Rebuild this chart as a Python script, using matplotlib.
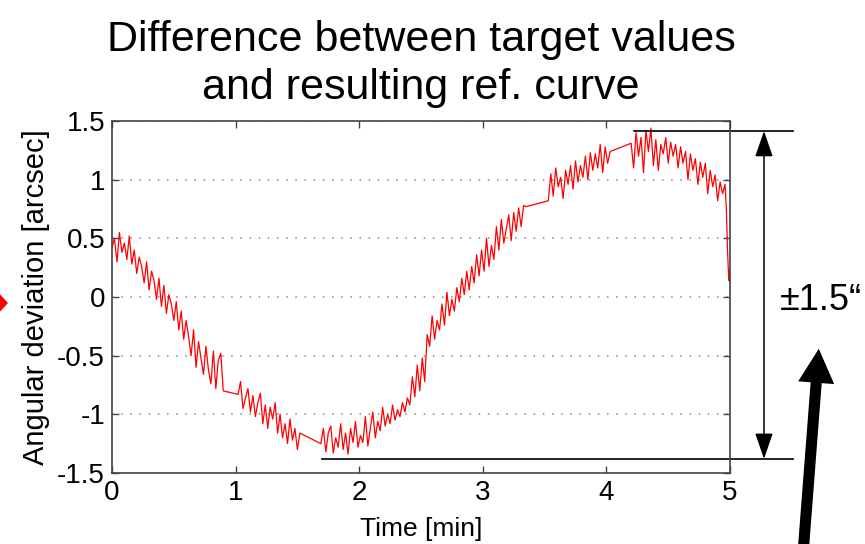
import numpy as np
import matplotlib
matplotlib.use("Agg")
import matplotlib.pyplot as plt
from matplotlib.patches import FancyArrowPatch, Polygon
from matplotlib.ticker import FuncFormatter

plt.rcParams['font.family'] = ['Liberation Sans', 'DejaVu Sans']

# measured deviation, read off the picture, piece by piece
# (the recorder had pauses, which show up as straight connecting lines)
seg_a = (0.00, 0.90, [0.42, 0.50, 0.30, 0.55, 0.38, 0.46, 0.32, 0.52, 0.28, 0.40,
                      0.20, 0.34, 0.26, 0.12, 0.30, 0.06, 0.22, 0.14, -0.02, 0.16,
                      -0.08, 0.10, -0.14, 0.02, -0.06, -0.20, -0.04, -0.28, -0.12, -0.36,
                      -0.20, -0.34, -0.50, -0.28, -0.60, -0.38, -0.52, -0.66, -0.42, -0.62,
                      -0.74, -0.46, -0.78, -0.54, -0.48, -0.80])
seg_b = (1.02, 1.52, [-0.83, -0.72, -0.95, -0.86, -0.78, -0.98, -0.84, -1.02, -0.90, -0.82,
                      -1.08, -0.92, -1.12, -0.94, -1.04, -0.90, -1.16, -1.00, -1.20, -1.08,
                      -1.25, -1.04, -1.22, -1.12, -1.30, -1.16])
seg_c = (1.69, 3.35, [-1.25, -1.12, -1.32, -1.16, -1.10, -1.33, -1.20, -1.28, -1.08, -1.30,
                      -1.16, -1.34, -1.12, -1.24, -1.06, -1.28, -1.18, -1.24, -1.02, -1.27,
                      -1.12, -0.98, -1.20, -1.06, -1.14, -0.94, -1.10, -1.00, -1.08, -0.92,
                      -1.05, -0.96, -1.02, -0.90, -0.98, -0.86, -0.92, -0.68, -0.85, -0.58,
                      -0.80, -0.52, -0.72, -0.32, -0.42, -0.16, -0.36, -0.20, -0.28, -0.06,
                      -0.24, 0.04, -0.16, -0.02, -0.12, 0.08, -0.04, 0.16, 0.02, 0.22,
                      0.06, 0.26, 0.12, 0.36, 0.18, 0.40, 0.22, 0.50, 0.26, 0.44,
                      0.32, 0.60, 0.40, 0.66, 0.46, 0.58, 0.70, 0.48, 0.72, 0.56,
                      0.76, 0.60, 0.78, 0.77])
seg_d = (3.53, 4.03, [0.82, 1.05, 0.86, 1.10, 0.94, 1.02, 0.84, 1.08, 0.96, 1.12,
                      0.92, 1.16, 0.98, 1.12, 1.02, 1.20, 1.00, 1.23, 1.08, 1.22,
                      1.10, 1.30, 1.06, 1.28, 1.14, 1.24])
seg_e = (4.20, 4.96, [1.31, 1.10, 1.40, 1.20, 1.36, 1.06, 1.42, 1.24, 1.44, 1.12,
                      1.34, 1.08, 1.30, 1.22, 1.36, 1.14, 1.32, 1.20, 1.30, 1.10,
                      1.28, 1.14, 1.24, 1.00, 1.22, 1.08, 1.18, 0.96, 1.15, 1.02,
                      1.14, 0.88, 1.08, 0.94, 1.04, 0.82, 0.98, 0.88, 0.96])
# final drop at the end of the run
tail_t = [4.97, 4.98, 4.99, 5.00, 5.00]
tail_v = [0.76, 0.40, 0.14, 0.24, 0.12]

x_ticks = [0, 1, 2, 3, 4, 5]
y_ticks = [-1.5, -1, -0.5, 0, 0.5, 1, 1.5]

# annotation: the band marked with the double arrow
band_top = 1.415
band_bottom = -1.38
band_top_from = 4.22
band_bottom_from = 1.70
band_to = 5.51
arrow_x = 5.275

t_list, v_list = [], []
for t0, t1, vals in (seg_a, seg_b, seg_c, seg_d, seg_e):
    t_list.append(np.linspace(t0, t1, len(vals)))
    v_list.append(np.array(vals))
t_list.append(np.array(tail_t))
v_list.append(np.array(tail_v))
t = np.concatenate(t_list)
v = np.concatenate(v_list)

W, H = 865, 544
fig = plt.figure(figsize=(W / 100, H / 100), dpi=100)
ax = fig.add_axes([112 / W, 1 - 473 / H, 618 / W, 352 / H])

ax.plot(t, v, color='red', linewidth=0.9)

ax.set_xlim(0, 5)
ax.set_ylim(-1.5, 1.5)
ax.set_xticks(x_ticks)
ax.set_yticks(y_ticks)
ax.yaxis.set_major_formatter(FuncFormatter(lambda val, pos: f"{val:g}"))
ax.tick_params(direction='in', length=5, width=1, color='#444444',
               top=True, right=True, labelsize=20, pad=5)
ax.grid(True, axis='y', color='#888888', linestyle=(0, (1, 5)), linewidth=1.1)
for sp in ax.spines.values():
    sp.set_color('#444444')
    sp.set_linewidth(1.2)

ax.set_xlabel('Time [min]', fontsize=19)
ax.set_ylabel('Angular deviation [arcsec]', fontsize=21)
ax.xaxis.set_label_coords(0.5, -0.125)
ax.yaxis.set_label_coords(-0.10, 0.5)

fig.text(421 / W, 1 - 20 / H, 'Difference between target values\nand resulting ref. curve',
         ha='center', va='top', fontsize=31, linespacing=1.25)

# horizontal marker lines and the double arrow
ax.plot([band_top_from, band_to], [band_top, band_top], color='black', lw=1.2, clip_on=False)
ax.plot([band_bottom_from, band_to], [band_bottom, band_bottom], color='black', lw=1.2, clip_on=False)
ax.annotate('', xy=(arrow_x, band_bottom), xytext=(arrow_x, band_top),
            arrowprops=dict(arrowstyle='<|-|>,head_length=1.6,head_width=0.55',
                            color='black', lw=1.1, shrinkA=0, shrinkB=0),
            annotation_clip=False)

fig.text(780 / W, 1 - 300 / H, '\u00b11.5\u201c', ha='left', va='center', fontsize=26)

# thick black pointer arrow from below
fig.patches.append(FancyArrowPatch((803 / W, -10 / H), (819 / W, 198 / H),
                                   transform=fig.transFigure,
                                   arrowstyle='simple,head_length=2.45,head_width=2.6,tail_width=0.8',
                                   mutation_scale=10, color='black', lw=0))
# red arrow head peeking in from the left edge
fig.patches.append(Polygon([(-4 / W, 1 - 290 / H), (8 / W, 1 - 303 / H), (-4 / W, 1 - 316 / H)],
                           closed=True, transform=fig.transFigure, color='red', lw=0))

fig.savefig('out.png', dpi=100)
